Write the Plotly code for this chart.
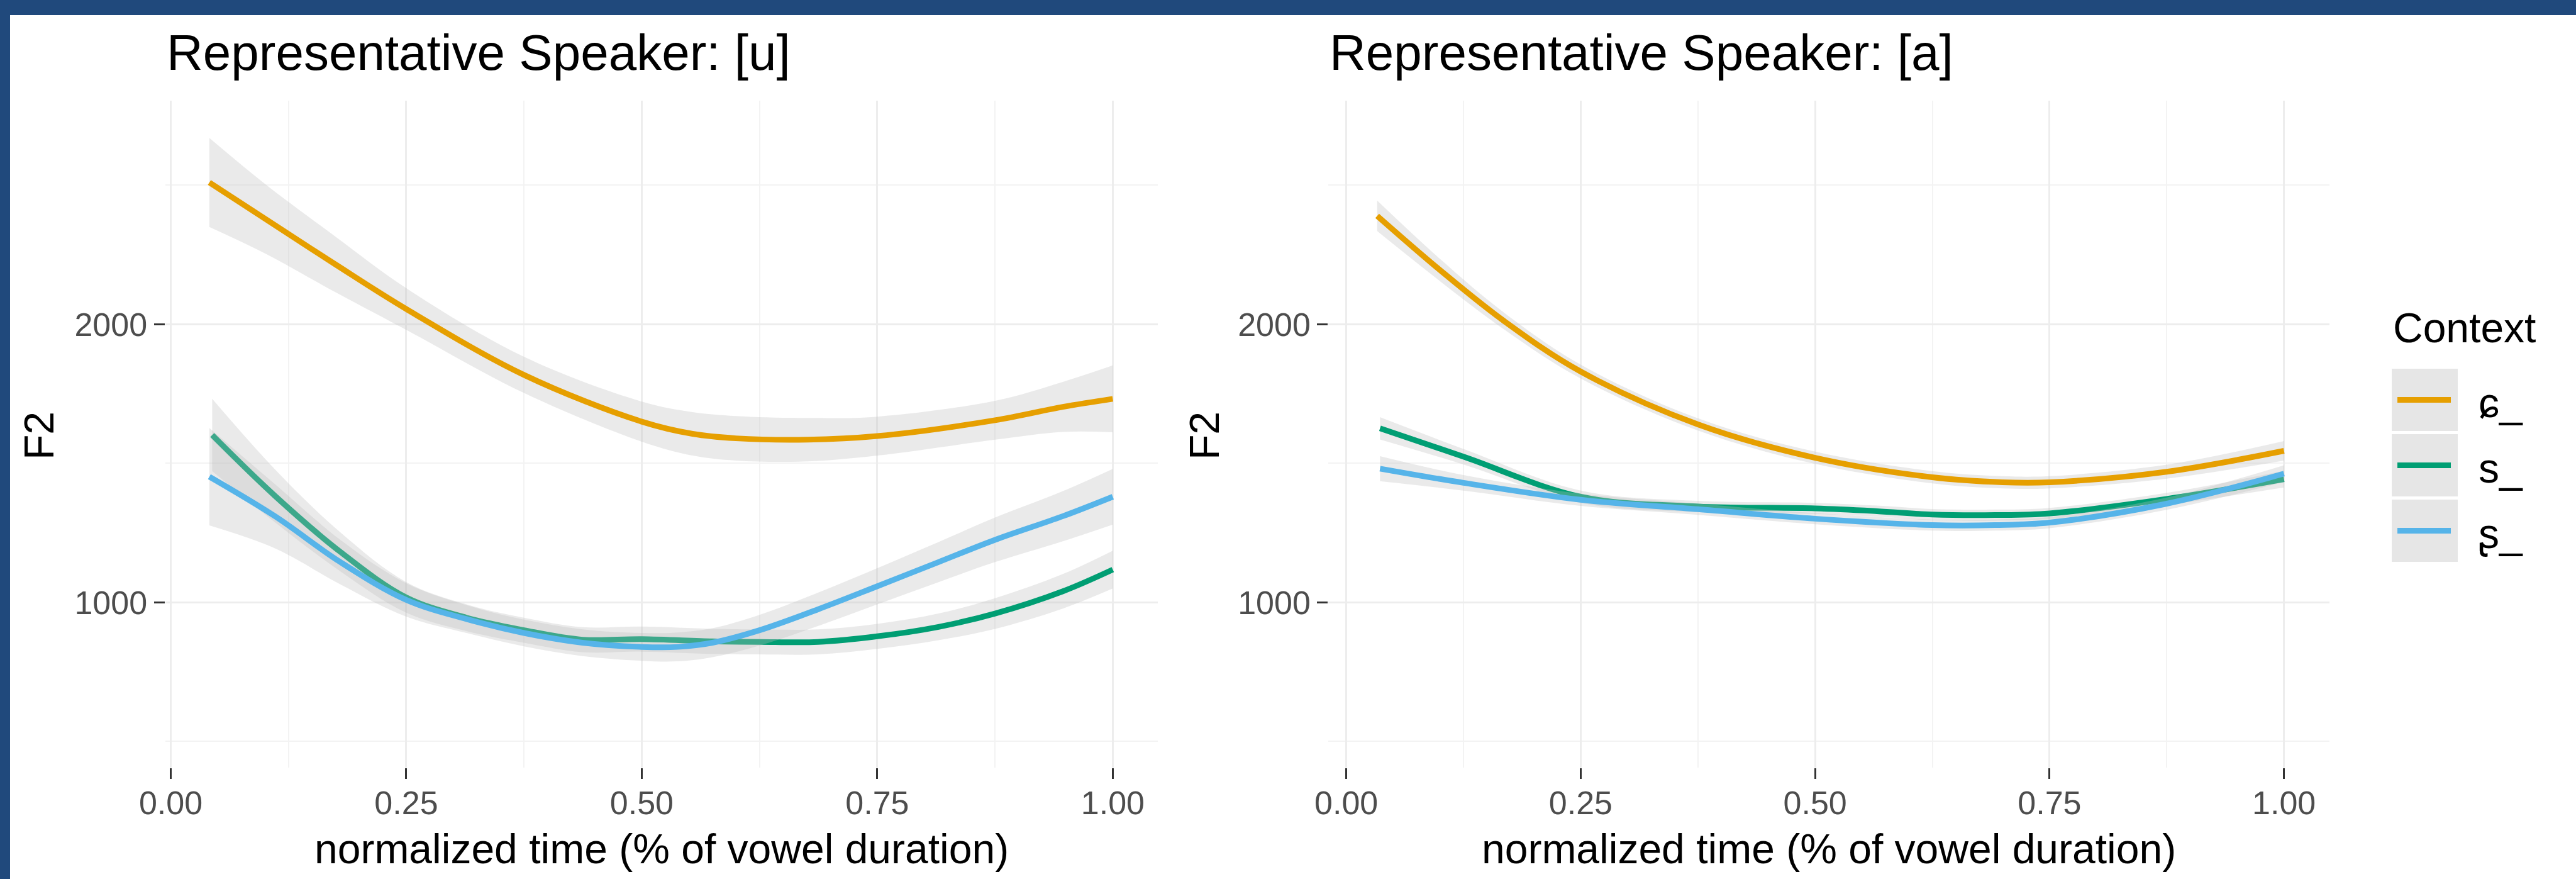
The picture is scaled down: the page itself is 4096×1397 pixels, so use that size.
import plotly.graph_objects as go

FONT = "Liberation Sans, Arial, Helvetica, DejaVu Sans, sans-serif"
W, H = 4096, 1397

# ---------------- data ----------------
contexts = ["ɕ_", "s_", "ʂ_"]
colors = ["#E69F00", "#009E73", "#56B4E9"]
panel_titles = ["Representative Speaker: [u]", "Representative Speaker: [a]"]
x_title = "normalized time (% of vowel duration)"
y_title = "F2"
legend_title = "Context"
x_ticks = [0, 0.25, 0.5, 0.75, 1.0]
x_tick_labels = ["0.00", "0.25", "0.50", "0.75", "1.00"]
y_ticks = [1000, 2000]
y_tick_labels = ["1000", "2000"]

# Panel [u]
u_sc_x = [0.041, 0.1, 0.175, 0.25, 0.375, 0.5, 0.554, 0.6, 0.676, 0.75, 0.875, 0.947, 1.0]
u_sc_y = [2510, 2380, 2215, 2055, 1818, 1650, 1606, 1590, 1585, 1598, 1655, 1703, 1732]
u_sc_se = [160, 125, 100, 75, 65, 72, 78, 80, 78, 70, 70, 90, 120]

u_s_x = [0.044, 0.111, 0.18, 0.25, 0.314, 0.375, 0.437, 0.5, 0.575, 0.625, 0.687, 0.75, 0.815, 0.875, 0.947, 1.0]
u_s_y = [1602, 1382, 1182, 1018, 945, 900, 866, 868, 860, 858, 858, 878, 912, 960, 1040, 1118]
u_s_se = [130, 95, 70, 55, 48, 45, 45, 45, 45, 45, 45, 45, 48, 55, 62, 68]

u_sr_x = [0.041, 0.111, 0.18, 0.25, 0.314, 0.375, 0.437, 0.5, 0.538, 0.575, 0.625, 0.687, 0.75, 0.815, 0.875, 0.947, 1.0]
u_sr_y = [1452, 1309, 1145, 1009, 940, 890, 855, 840, 840, 855, 900, 975, 1058, 1145, 1225, 1310, 1380]
u_sr_se = [175, 115, 80, 60, 50, 48, 48, 50, 52, 52, 55, 60, 65, 72, 80, 90, 100]

# Panel [a]
a_sc_x = [0.033, 0.1, 0.169, 0.25, 0.375, 0.5, 0.625, 0.7, 0.75, 0.875, 1.0]
a_sc_y = [2390, 2195, 2010, 1830, 1640, 1520, 1450, 1432, 1432, 1470, 1545]
a_sc_se = [55, 40, 30, 25, 22, 22, 22, 22, 22, 25, 35]

a_s_x = [0.036, 0.125, 0.25, 0.375, 0.5, 0.566, 0.625, 0.692, 0.75, 0.875, 1.0]
a_s_y = [1626, 1524, 1380, 1345, 1338, 1328, 1316, 1314, 1320, 1372, 1443]
a_s_se = [40, 28, 22, 20, 20, 20, 20, 20, 20, 22, 30]

a_sr_x = [0.036, 0.125, 0.25, 0.375, 0.5, 0.625, 0.692, 0.75, 0.875, 1.0]
a_sr_y = [1481, 1430, 1369, 1335, 1301, 1278, 1278, 1287, 1355, 1463]
a_sr_se = [45, 28, 22, 20, 20, 20, 20, 20, 22, 30]

panels = [
    [(u_sc_x, u_sc_y, u_sc_se), (u_s_x, u_s_y, u_s_se), (u_sr_x, u_sr_y, u_sr_se)],
    [(a_sc_x, a_sc_y, a_sc_se), (a_s_x, a_s_y, a_s_se), (a_sr_x, a_sr_y, a_sr_se)],
]

# ---------------- layout geometry (pixels in 4096x1397) ----------------
x_ranges = [[-0.006, 1.048], [-0.019, 1.0485]]
x_domains = [[262.5 / W, 1841.3 / W], [2112.3 / W, 3704.0 / W]]
y_range = [405, 2805]
y_domain = [(H - 1220.4) / H, (H - 159.6) / H]

RIBBON = "rgba(190,190,190,0.32)"
LW = 9

fig = go.Figure()
for p, series in enumerate(panels):
    xa = "x" if p == 0 else "x2"
    ya = "y" if p == 0 else "y2"
    for k, (xs, ys, se) in enumerate(series):
        lo = [y - s for y, s in zip(ys, se)]
        hi = [y + s for y, s in zip(ys, se)]
        fig.add_trace(go.Scatter(x=xs, y=lo, xaxis=xa, yaxis=ya, mode="lines",
                                 line=dict(width=0, shape="spline"), showlegend=False,
                                 hoverinfo="skip"))
        fig.add_trace(go.Scatter(x=xs, y=hi, xaxis=xa, yaxis=ya, mode="lines",
                                 line=dict(width=0, shape="spline"), fill="tonexty",
                                 fillcolor=RIBBON, showlegend=False, hoverinfo="skip"))
        fig.add_trace(go.Scatter(x=xs, y=ys, xaxis=xa, yaxis=ya, mode="lines",
                                 line=dict(width=LW, color=colors[k], shape="spline"),
                                 name=contexts[k], showlegend=False))

axis_common = dict(
    showline=False, zeroline=False, ticks="outside", ticklen=17, tickwidth=3,
    tickcolor="#333333", gridcolor="#EDEDED", gridwidth=3, automargin=False,
    tickfont=dict(family=FONT, size=52, color="#4D4D4D"),
)

for p in range(2):
    xkey = "xaxis" if p == 0 else "xaxis2"
    ykey = "yaxis" if p == 0 else "yaxis2"
    fig.update_layout({
        xkey: dict(axis_common, domain=x_domains[p], range=x_ranges[p],
                   tickvals=x_ticks, ticktext=x_tick_labels, ticklabelstandoff=-7,
                   anchor="y" if p == 0 else "y2",
                   minor=dict(tickvals=[0.125, 0.375, 0.625, 0.875], showgrid=True,
                              gridcolor="#F3F3F3", gridwidth=2, ticks="")),
        ykey: dict(axis_common, domain=y_domain, range=y_range,
                   tickvals=y_ticks, ticktext=y_tick_labels,
                   anchor="x" if p == 0 else "x2",
                   minor=dict(tickvals=[500, 1500, 2500], showgrid=True,
                              gridcolor="#F3F3F3", gridwidth=2, ticks="")),
    })

def py(px):
    return 1 - px / H

annotations = []
shapes = []
for p in range(2):
    annotations.append(dict(text=panel_titles[p], x=x_domains[p][0], y=py(111 - 0.3465 * 80),
                            xref="paper", yref="paper", xanchor="left", yanchor="middle",
                            showarrow=False, font=dict(family=FONT, size=80, color="#000000")))
    cx = (x_domains[p][0] + x_domains[p][1]) / 2
    annotations.append(dict(text=x_title, x=cx, y=py(1372 - 0.3465 * 66),
                            xref="paper", yref="paper", xanchor="center", yanchor="middle",
                            showarrow=False, font=dict(family=FONT, size=66, color="#000000")))
    fx = [62, 1915][p]
    annotations.append(dict(text=y_title, x=fx / W, y=py(693), textangle=-90,
                            xref="paper", yref="paper", xanchor="center", yanchor="middle",
                            showarrow=False, font=dict(family=FONT, size=66, color="#000000")))

# legend (drawn manually)
annotations.append(dict(text=legend_title, x=3803 / W, y=py(544 - 0.3465 * 66),
                        xref="paper", yref="paper", xanchor="left", yanchor="middle",
                        showarrow=False, font=dict(family=FONT, size=66, color="#000000")))
key_tops = [586, 690, 794]
key_h = 99
for k, top in enumerate(key_tops):
    shapes.append(dict(type="rect", xref="paper", yref="paper",
                       x0=3803 / W, x1=3908 / W, y0=py(top + key_h), y1=py(top),
                       fillcolor="#E6E6E6", line=dict(width=0), layer="below"))
    cyk = top + key_h / 2
    shapes.append(dict(type="line", xref="paper", yref="paper",
                       x0=3812 / W, x1=3897 / W, y0=py(cyk), y1=py(cyk),
                       line=dict(color=colors[k], width=LW)))
    annotations.append(dict(text=contexts[k], x=3939 / W, y=py(cyk + 4),
                            xref="paper", yref="paper", xanchor="left", yanchor="middle",
                            showarrow=False, font=dict(family=FONT, size=66, color="#000000")))

# dark blue frame (top band and left strip)
shapes.append(dict(type="rect", xref="paper", yref="paper", x0=0, x1=1, y0=py(24), y1=1,
                   fillcolor="#20497C", line=dict(width=0)))
shapes.append(dict(type="rect", xref="paper", yref="paper", x0=0, x1=16 / W, y0=0, y1=1,
                   fillcolor="#20497C", line=dict(width=0)))

fig.update_layout(
    width=W, height=H,
    margin=dict(l=0, r=0, t=0, b=0, pad=0, autoexpand=False),
    paper_bgcolor="white", plot_bgcolor="white",
    showlegend=False,
    annotations=annotations, shapes=shapes,
    font=dict(family=FONT),
)

fig.write_html("out.html",
               config={"displayModeBar": False},
               post_script="document.body.style.margin='0';document.body.style.padding='0';"
                           "document.documentElement.style.overflow='hidden';")
